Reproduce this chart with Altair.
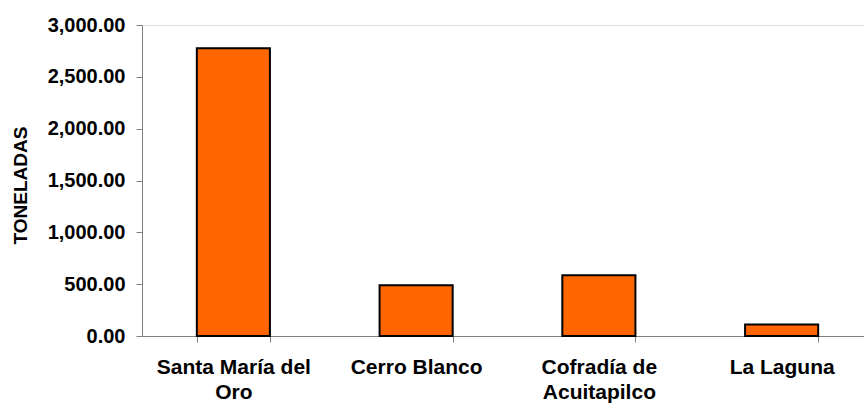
import altair as alt
import pandas as pd

# Producción por localidad (toneladas)
localidades = ["Santa María del Oro", "Cerro Blanco", "Cofradía de Acuitapilco", "La Laguna"]
toneladas = [2775.0, 490.0, 585.0, 112.0]
# Etiquetas del eje en varias líneas
etiquetas = [["Santa María del", "Oro"], ["Cerro Blanco"], ["Cofradía de", "Acuitapilco"], ["La Laguna"]]

df = pd.DataFrame({"localidad": localidades, "toneladas": toneladas})

label_expr = " : ".join(
    f"datum.label == '{n}' ? {l!r}" for n, l in zip(localidades, etiquetas)
) + " : datum.label"

FONT = "Liberation Sans"

chart = (
    alt.Chart(df)
    .mark_bar(color="#FF6600", stroke="#000000", strokeWidth=2)
    .encode(
        x=alt.X(
            "localidad:N",
            sort=localidades,
            title=None,
            scale=alt.Scale(range=[0, 731], paddingInner=0.6, paddingOuter=0.3),
            axis=alt.Axis(
                labelAngle=0,
                labelExpr=label_expr,
                labelFont=FONT,
                labelFontSize=21,
                labelFontWeight="bold",
                labelColor="#000000",
                labelLineHeight=25,
                labelPadding=14,
                labelLimit=300,
                tickBand="extent",
                tickSize=6,
                tickColor="#808080",
                domainColor="#808080",
                grid=False,
            ),
        ),
        y=alt.Y(
            "toneladas:Q",
            title="TONELADAS",
            scale=alt.Scale(domain=[0, 3000], nice=False),
            axis=alt.Axis(
                values=[0, 500, 1000, 1500, 2000, 2500, 3000],
                format=",.2f",
                labelFont=FONT,
                labelFontSize=20,
                labelFontWeight="bold",
                labelColor="#000000",
                labelPadding=11,
                tickSize=6,
                tickColor="#808080",
                domainColor="#808080",
                grid=False,
                titleFont=FONT,
                titleFontSize=19,
                titleFontWeight="bold",
                titleColor="#000000",
                titleX=-112,
                titleY=160,
                titleAngle=270,
            ),
        ),
    )
    .properties(
        width=722,
        height=311,
        autosize=alt.AutoSizeParams(type="none"),
        padding={"left": 142, "top": 25, "right": 0, "bottom": 67},
    )
    .configure_view(stroke=None)
    .configure(background="#ffffff")
)

chart.save("out.html", embed_options={"renderer": "svg", "actions": False})
